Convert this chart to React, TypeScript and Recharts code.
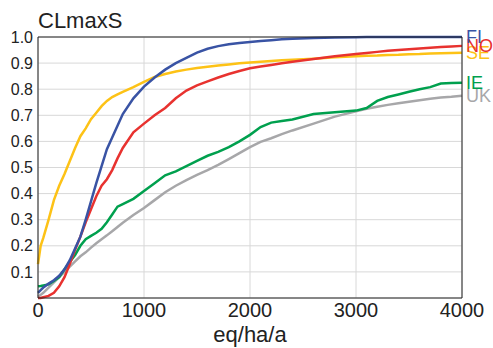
import React from "react";
import { LineChart, Line, XAxis, YAxis, CartesianGrid, Label } from "recharts";

const xs = [0, 25, 50, 100, 150, 200, 250, 300, 350, 400, 450, 500, 550, 600, 650, 700, 750, 800, 900, 1000, 1100, 1200, 1300, 1400, 1500, 1600, 1700, 1800, 1900, 2000, 2100, 2200, 2300, 2400, 2600, 2800, 3000, 3100, 3200, 3300, 3400, 3500, 3600, 3700, 3800, 3900, 4000];

const fi = [0.02, 0.03, 0.04, 0.055, 0.068, 0.085, 0.11, 0.145, 0.19, 0.235, 0.3, 0.37, 0.44, 0.505, 0.57, 0.615, 0.66, 0.705, 0.765, 0.81, 0.845, 0.875, 0.9, 0.92, 0.94, 0.955, 0.965, 0.972, 0.977, 0.981, 0.985, 0.988, 0.991, 0.993, 0.996, 0.998, 0.999, 1, 1, 1, 1, 1, 1, 1, 1, 1, 1];

const no = [0, 0, 0.003, 0.008, 0.02, 0.045, 0.08, 0.13, 0.185, 0.235, 0.29, 0.34, 0.39, 0.43, 0.455, 0.49, 0.535, 0.575, 0.635, 0.668, 0.7, 0.728, 0.765, 0.795, 0.815, 0.83, 0.845, 0.858, 0.87, 0.88, 0.887, 0.893, 0.899, 0.905, 0.916, 0.926, 0.935, 0.939, 0.943, 0.947, 0.95, 0.953, 0.956, 0.959, 0.962, 0.964, 0.966];

const se = [0.13, 0.2, 0.23, 0.3, 0.375, 0.43, 0.475, 0.525, 0.575, 0.62, 0.65, 0.685, 0.71, 0.735, 0.755, 0.77, 0.78, 0.79, 0.808, 0.828, 0.847, 0.858, 0.868, 0.875, 0.881, 0.886, 0.891, 0.895, 0.899, 0.902, 0.905, 0.908, 0.911, 0.913, 0.917, 0.922, 0.926, 0.928, 0.929, 0.931, 0.932, 0.934, 0.935, 0.937, 0.938, 0.939, 0.94];

const ie = [0.045, 0.046, 0.048, 0.052, 0.065, 0.08, 0.11, 0.138, 0.165, 0.2, 0.225, 0.238, 0.25, 0.265, 0.29, 0.32, 0.35, 0.36, 0.38, 0.41, 0.44, 0.47, 0.485, 0.505, 0.525, 0.545, 0.56, 0.578, 0.6, 0.625, 0.655, 0.672, 0.678, 0.684, 0.705, 0.712, 0.718, 0.728, 0.755, 0.77, 0.78, 0.79, 0.8, 0.808, 0.822, 0.824, 0.825];

const uk = [0.005, 0.012, 0.02, 0.04, 0.06, 0.08, 0.1, 0.12, 0.14, 0.16, 0.175, 0.193, 0.21, 0.225, 0.24, 0.256, 0.272, 0.288, 0.318, 0.345, 0.375, 0.405, 0.43, 0.452, 0.472, 0.49, 0.51, 0.532, 0.555, 0.578, 0.598, 0.612, 0.628, 0.642, 0.668, 0.695, 0.715, 0.725, 0.733, 0.74, 0.746, 0.752, 0.758, 0.763, 0.768, 0.771, 0.775];

const xTicks = [0, 1000, 2000, 3000, 4000];
const yTicks = [0.1, 0.2, 0.3, 0.4, 0.5, 0.6, 0.7, 0.8, 0.9, 1.0];

const series = [
  { key: "UK", values: uk, color: "#a7a7a9" },
  { key: "IE", values: ie, color: "#00a04e" },
  { key: "SE", values: se, color: "#fdc216" },
  { key: "NO", values: no, color: "#e8322f" },
  { key: "FI", values: fi, color: "#3953a4" },
];

const data = xs.map((x, i) => {
  const row: any = { x };
  series.forEach((s) => (row[s.key] = s.values[i]));
  return row;
});

const FONT = "'Liberation Sans', Arial, Helvetica, sans-serif";
const last = xs.length - 1;

const makeLabel = (name: string, color: string) => (props: any) => {
  if (props.index !== last) return null;
  return (
    <text x={props.x + 4} y={props.y} dy="0.36em" fill={color} fontSize={18} fontFamily={FONT}>
      {name}
    </text>
  );
};

export default function App() {
  return (
    <div style={{ position: "fixed", left: 0, top: 0, width: 493, height: 348, background: "#fff" }}>
      <LineChart
        width={493}
        height={348}
        data={data}
        margin={{ top: 36, right: 31, bottom: 0, left: 0 }}
      >
        <CartesianGrid stroke="#d8d8d8" strokeWidth={1} yAxisId="left" />
        <XAxis
          dataKey="x"
          type="number"
          domain={[0, 4000]}
          ticks={xTicks}
          height={50}
          tickLine={false}
          tickSize={0}
          tickMargin={5}
          axisLine={{ stroke: "#222", strokeWidth: 1 }}
          tick={{ fill: "#222", fontSize: 20, fontFamily: FONT }}
          interval={0}
        >
          <Label value="eq/ha/a" position="insideBottom" offset={6} fill="#222" fontSize={22} fontFamily={FONT} />
        </XAxis>
        <XAxis
          xAxisId="top"
          orientation="top"
          type="number"
          domain={[0, 4000]}
          ticks={xTicks}
          height={1}
          tick={false}
          tickLine={false}
          axisLine={{ stroke: "#222", strokeWidth: 1 }}
        />
        <YAxis
          yAxisId="left"
          type="number"
          domain={[0, 1]}
          ticks={yTicks}
          width={38}
          tickLine={false}
          tickSize={0}
          tickMargin={5}
          axisLine={{ stroke: "#222", strokeWidth: 1 }}
          tick={{ fill: "#222", fontSize: 16, fontFamily: FONT }}
          tickFormatter={(v: number) => v.toFixed(1)}
          interval={0}
        />
        <YAxis
          yAxisId="right"
          orientation="right"
          type="number"
          domain={[0, 1]}
          ticks={yTicks}
          width={1}
          mirror
          tick={false}
          tickSize={4}
          tickLine={{ stroke: "#222" }}
          axisLine={{ stroke: "#222", strokeWidth: 1 }}
        />
        {series.map((s) => (
          <Line
            key={s.key}
            yAxisId="left"
            dataKey={s.key}
            stroke={s.color}
            strokeWidth={2.5}
            dot={false}
            isAnimationActive={false}
            type="linear"
            label={makeLabel(s.key, s.color)}
          />
        ))}
      </LineChart>
      <div
        style={{
          position: "absolute",
          left: 38,
          top: 8,
          fontFamily: FONT,
          fontSize: 22,
          lineHeight: "25px",
          color: "#222",
        }}
      >
        CLmaxS
      </div>
    </div>
  );
}
